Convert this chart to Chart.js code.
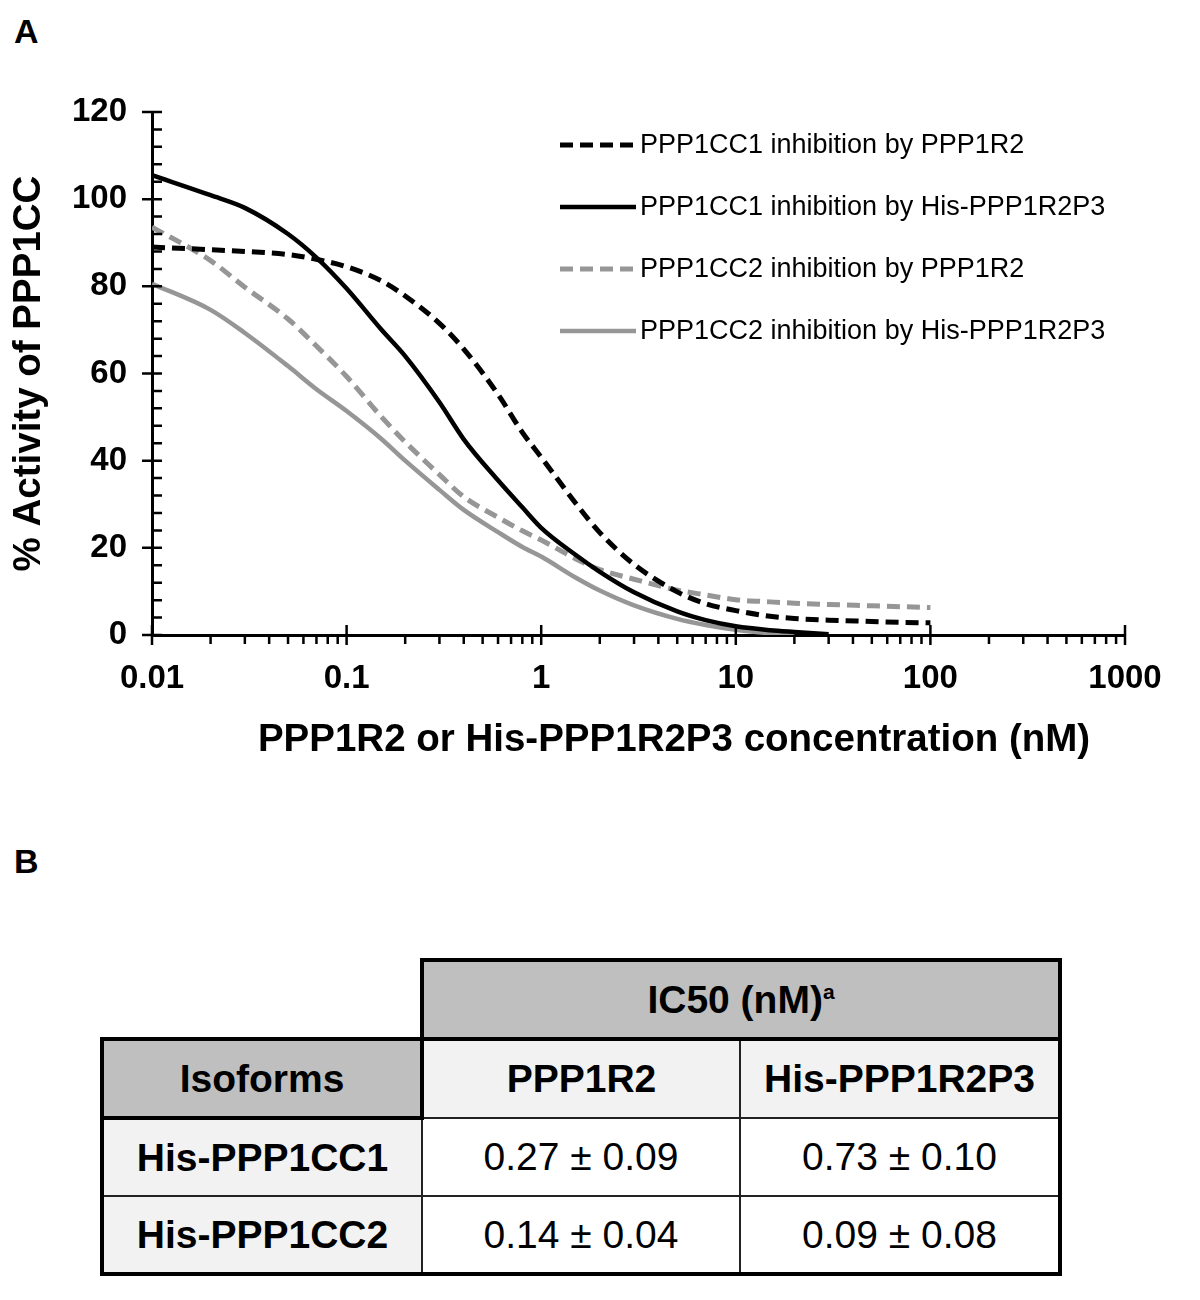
<!DOCTYPE html>
<html>
<head>
<meta charset="utf-8">
<title>PPP1CC inhibition</title>
<script src="https://cdn.jsdelivr.net/npm/chart.js@4.4.0/dist/chart.umd.min.js"></script>
<style>
  body { margin: 0; background: #fff; width: 1200px; height: 1300px; position: relative; font-family: "Liberation Sans", Arial, sans-serif; }
  .panel { position: absolute; font-weight: bold; font-size: 34px; line-height: 1; }
  #chartBox { position: absolute; left: 0; top: 0; width: 1200px; height: 790px; }
  #ic50 { position: absolute; left: 100px; top: 958px; border-collapse: collapse; table-layout: fixed; }
  #ic50 td { border: 2px solid #222; text-align: center; vertical-align: middle; font-size: 39px; height: 75px; padding: 0; color: #000; }
  #ic50 td.head { background: #bfbfbf; font-weight: bold; border: 4px solid #000; }
  #ic50 td.sub { background: #f2f2f2; font-weight: bold; }
  #ic50 td.row { background: #f2f2f2; font-weight: bold; }
  #ic50 td.val { background: #fff; }
  #ic50 td.blank { border: none; background: #fff; }
  #ic50 tr.body td:first-child { border-left: 4px solid #000; }
  #ic50 tr.body td:last-child { border-right: 4px solid #000; }
  #ic50 tr.last td { border-bottom: 4px solid #000; }
  #ic50 sup { font-size: 21px; }
</style>
</head>
<body>
<div class="panel" style="left:14px; top:14px;">A</div>
<div class="panel" style="left:14px; top:844px;">B</div>
<div id="chartBox"><canvas id="ic50Chart"></canvas></div>

<table id="ic50">
  <colgroup><col style="width:320px"><col style="width:318px"><col style="width:320px"></colgroup>
  <tr><td class="blank"></td><td class="head" colspan="2">IC50 (nM)<sup>a</sup></td></tr>
  <tr class="body"><td class="head">Isoforms</td><td class="sub">PPP1R2</td><td class="sub">His-PPP1R2P3</td></tr>
  <tr class="body"><td class="row">His-PPP1CC1</td><td class="val">0.27 ± 0.09</td><td class="val">0.73 ± 0.10</td></tr>
  <tr class="body last"><td class="row">His-PPP1CC2</td><td class="val">0.14 ± 0.04</td><td class="val">0.09 ± 0.08</td></tr>
</table>

<script>
// concentration (nM) at which the fitted curves were read
const concentrations = [0.01, 0.02, 0.03, 0.05, 0.07, 0.1, 0.15, 0.2, 0.3, 0.4, 0.6, 0.8, 1, 1.5, 2, 3, 5, 7, 10, 15, 20, 30, 50, 70, 100];

// % activity of PPP1CC
const cc1ByR2    = [89, 88.4, 88.0, 87.3, 86.2, 84.5, 81.3, 77.8, 71.5, 65.6, 55.2, 46.5, 40.8, 30.3, 23.5, 16.2, 9.9, 7.2, 5.6, 4.3, 3.8, 3.4, 3.1, 2.9, 2.8];
const cc1ByR2P3  = [105.5, 100.9, 98.0, 92.0, 86.6, 79.5, 70.2, 64.0, 53.4, 44.9, 35.5, 29.3, 24.6, 18.4, 14.5, 9.8, 5.4, 3.4, 2.0, 1.1, 0.7, 0.2, null, null, null];
const cc2ByR2    = [93.6, 85.9, 79.8, 72.5, 66.3, 59.3, 50.2, 44.3, 36.8, 31.7, 27.0, 23.9, 21.8, 17.5, 15.0, 12.8, 10.3, 9.2, 8.1, 7.6, 7.3, 7.0, 6.7, 6.5, 6.3];
const cc2ByR2P3  = [80.6, 74.6, 69.3, 61.7, 56.4, 51.4, 45.1, 40.0, 33.3, 28.7, 23.6, 20.2, 18.0, 13.2, 10.2, 6.8, 3.7, 2.3, 1.2, 0.4, 0, null, null, null, null];

const seriesLabels = [
    'PPP1CC1 inhibition by PPP1R2',
    'PPP1CC1 inhibition by His-PPP1R2P3',
    'PPP1CC2 inhibition by PPP1R2',
    'PPP1CC2 inhibition by His-PPP1R2P3'
];

const xTicks = [0.01, 0.1, 1, 10, 100, 1000];
const yTicks = [0, 20, 40, 60, 80, 100, 120];
const yMinorStep = 4;

const xTitle = 'PPP1R2 or His-PPP1R2P3 concentration (nM)';
const yTitle = '% Activity of PPP1CC';

const FONT = '"Liberation Sans", Arial, sans-serif';
const BLACK = '#000000';
const GREY = '#969696';

function toPoints(values) {
    return concentrations
        .map((c, i) => ({ x: c, y: values[i] }))
        .filter(p => p.y !== null);
}

function makeDataset(label, values, color, dashed) {
    return {
        label: label,
        data: toPoints(values),
        borderColor: color,
        backgroundColor: color,
        borderWidth: dashed ? 5 : 4.5,
        borderDash: dashed ? [13, 7] : [],
        borderCapStyle: 'butt',
        pointRadius: 0,
        fill: false,
        cubicInterpolationMode: 'monotone'
    };
}

// tick marks that cross the axes, like the original figure
const axisMarks = {
    id: 'axisMarks',
    afterDraw(chart) {
        const { ctx, chartArea, scales } = chart;
        const xs = scales.x, ys = scales.y;
        const bottom = chartArea.bottom, left = chartArea.left;
        ctx.save();
        ctx.strokeStyle = BLACK;
        ctx.lineWidth = 2.5;
        ctx.beginPath();
        xTicks.forEach((v, i) => {
            const px = xs.getPixelForValue(v);
            ctx.moveTo(px, bottom - 10);
            ctx.lineTo(px, bottom + 10);
            if (i < xTicks.length - 1) {
                for (let m = 2; m <= 9; m++) {
                    const mx = xs.getPixelForValue(v * m);
                    ctx.moveTo(mx, bottom);
                    ctx.lineTo(mx, bottom + 9);
                }
            }
        });
        yTicks.forEach(v => {
            const py = ys.getPixelForValue(v);
            ctx.moveTo(left - 10, py);
            ctx.lineTo(left + 10, py);
        });
        for (let v = 0; v <= yTicks[yTicks.length - 1]; v += yMinorStep) {
            if (yTicks.includes(v)) continue;
            const py = ys.getPixelForValue(v);
            ctx.moveTo(left, py);
            ctx.lineTo(left + 10, py);
        }
        ctx.stroke();

        ctx.fillStyle = BLACK;
        ctx.font = 'bold 38.5px ' + FONT;
        ctx.textAlign = 'center';
        ctx.textBaseline = 'middle';
        ctx.fillText(xTitle, 674, 740);
        ctx.restore();
    }
};

// legend inside the plot, top right
const lineLegend = {
    id: 'lineLegend',
    afterDraw(chart) {
        const ctx = chart.ctx;
        ctx.save();
        ctx.font = '27px ' + FONT;
        ctx.textBaseline = 'middle';
        ctx.textAlign = 'left';
        chart.data.datasets.forEach((ds, i) => {
            const y = 145 + i * 62;
            ctx.strokeStyle = ds.borderColor;
            ctx.lineWidth = ds.borderWidth;
            ctx.setLineDash(ds.borderDash);
            ctx.beginPath();
            ctx.moveTo(560, y);
            ctx.lineTo(636, y);
            ctx.stroke();
            ctx.setLineDash([]);
            ctx.fillStyle = BLACK;
            ctx.fillText(ds.label, 640, y + 1);
        });
        ctx.restore();
    }
};

const ctx = document.getElementById('ic50Chart').getContext('2d');
new Chart(ctx, {
    type: 'line',
    data: {
        datasets: [
            makeDataset(seriesLabels[0], cc1ByR2, BLACK, true),
            makeDataset(seriesLabels[1], cc1ByR2P3, BLACK, false),
            makeDataset(seriesLabels[2], cc2ByR2, GREY, true),
            makeDataset(seriesLabels[3], cc2ByR2P3, GREY, false)
        ]
    },
    options: {
        responsive: true,
        maintainAspectRatio: false,
        animation: false,
        layout: { padding: { left: 0, right: 75, top: 112, bottom: 0 } },
        plugins: {
            legend: { display: false },
            tooltip: { enabled: false }
        },
        scales: {
            x: {
                type: 'logarithmic',
                min: 0.01,
                max: 1000,
                afterBuildTicks: scale => { scale.ticks = xTicks.map(v => ({ value: v })); },
                afterFit: scale => { scale.height = 155; },
                grid: { display: false, drawTicks: false },
                border: { display: true, color: BLACK, width: 3 },
                ticks: {
                    padding: 24,
                    maxRotation: 0,
                    autoSkip: false,
                    color: BLACK,
                    font: { family: FONT, size: 33, weight: 'bold' },
                    callback: v => String(v)
                }
            },
            y: {
                min: 0,
                max: 120,
                afterBuildTicks: scale => { scale.ticks = yTicks.map(v => ({ value: v })); },
                afterFit: scale => { scale.width = 152; },
                grid: { display: false, drawTicks: false },
                border: { display: true, color: BLACK, width: 3 },
                title: {
                    display: true,
                    text: yTitle,
                    color: BLACK,
                    font: { family: FONT, size: 38.5, weight: 'bold' },
                    padding: { top: 6, bottom: 0 }
                },
                ticks: {
                    padding: 25,
                    color: BLACK,
                    font: { family: FONT, size: 33, weight: 'bold' }
                }
            }
        }
    },
    plugins: [axisMarks, lineLegend]
});
</script>
</body>
</html>
